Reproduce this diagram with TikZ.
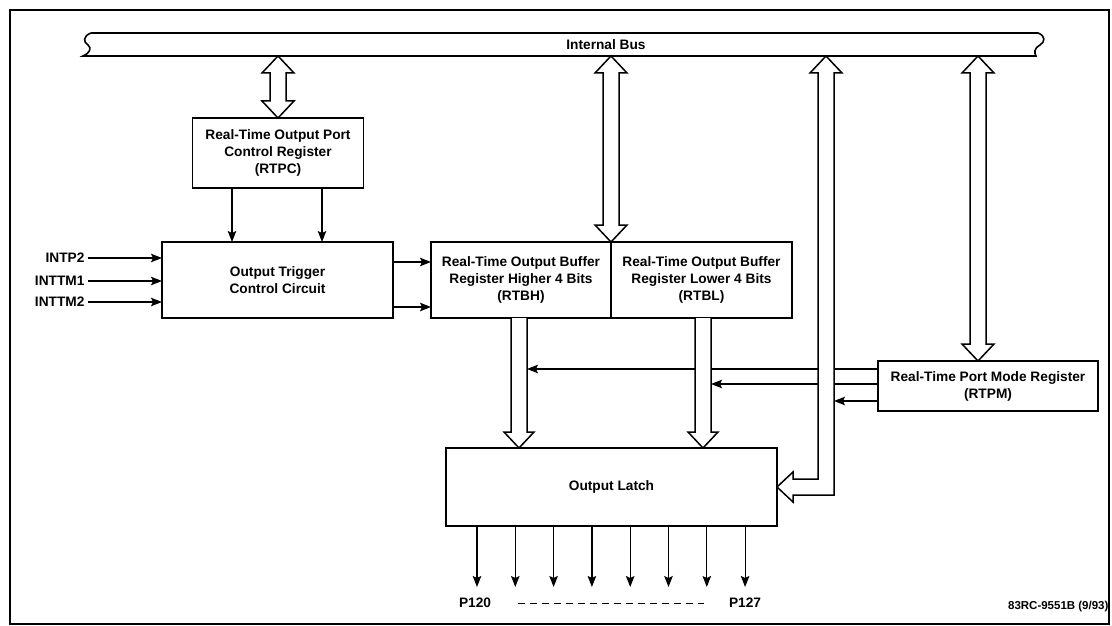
\documentclass[tikz,border=0pt]{standalone}
\usepackage{fontspec}
\setmainfont{Liberation Sans}
\usetikzlibrary{arrows.meta,positioning,calc}

% hollow bus arrow, heads at both ends (top point, bottom point)
\newcommand{\busarrow}[2]{%
  \draw[fat] let \p1=(#1), \p2=(#2) in
    (\x1,\y1) -- (\x1+16pt,\y1-17pt) -- (\x1+8pt,\y1-17pt) -- (\x1+8pt,\y2+17pt)
    -- (\x1+16pt,\y2+17pt) -- (\x1,\y2) -- (\x1-16pt,\y2+17pt) -- (\x1-8pt,\y2+17pt)
    -- (\x1-8pt,\y1-17pt) -- (\x1-16pt,\y1-17pt) -- cycle;}
% hollow arrow going down into a box
\newcommand{\droparrow}[2]{%
  \draw[fat] let \p1=(#1), \p2=(#2) in
    (\x1-8pt,\y1) -- (\x1-8pt,\y2+16pt) -- (\x1-15pt,\y2+16pt) -- (\x1,\y2)
    -- (\x1+15pt,\y2+16pt) -- (\x1+8pt,\y2+16pt) -- (\x1+8pt,\y1);}

\begin{document}
\begin{tikzpicture}[x=1pt,y=-1pt,
    font=\fontsize{13.7}{17}\selectfont\bfseries,
    box/.style={draw,line width=1.7pt,align=center,outer sep=0pt,inner sep=2pt},
    sig/.style={line width=1.2pt,-{Stealth[length=11pt,width=8.5pt,inset=2pt]}},
    fat/.style={draw,line width=1.5pt,fill=white,line join=miter}]
  \useasboundingbox (0,0) rectangle (1112,626);
  \draw[line width=1.8pt] (10,10) rectangle (1109,624);

  % internal bus
  \draw[line width=1.6pt] (91,33) -- (1038,33)
    .. controls (1046,36) and (1045,42) .. (1040,45)
    .. controls (1034,48) and (1034,53) .. (1036,56) -- (83,56)
    .. controls (90,53) and (92,48) .. (88,45)
    .. controls (83,42) and (83,36) .. (91,33);
  \node (bus) at (606,45) {Internal Bus};
  \coordinate (bA) at (278,56);
  \coordinate (bB) at (611,56);
  \coordinate (bC) at (826,56);
  \coordinate (bD) at (978,56);

  % blocks
  \node[box,minimum width=171pt,minimum height=70pt] (rtpc) at (278,153)
    {Real-Time Output Port\\Control Register\\(RTPC)};
  \node[box,minimum width=231pt,minimum height=76pt] (otc) at (277.5,280)
    {Output Trigger\\Control Circuit};
  \node[box,minimum width=180pt,minimum height=76pt] (rtbh) at (521,280)
    {Real-Time Output Buffer\\Register Higher 4 Bits\\(RTBH)};
  \node[box,minimum width=181pt,minimum height=76pt,right=0pt of rtbh] (rtbl)
    {Real-Time Output Buffer\\Register Lower 4 Bits\\(RTBL)};
  \node[box,minimum width=331pt,minimum height=78pt] (latch) at (611.5,487) {Output Latch};
  \node[box,minimum width=220pt,minimum height=50pt] (rtpm) at (988,386)
    {Real-Time Port Mode Register\\(RTPM)};

  % trigger inputs
  \node[anchor=east] (intp2) at (88,258) {INTP2};
  \node[anchor=east] (inttm1) at (88,281) {INTTM1};
  \node[anchor=east] (inttm2) at (88,302) {INTTM2};
  \foreach \n in {intp2,inttm1,inttm2}
    \draw[sig] (\n.east) -- (\n.east -| otc.west);

  \draw[sig] ([xshift=-46pt]rtpc.south) -- ([xshift=-46pt]rtpc.south |- otc.north);
  \draw[sig] ([xshift=44pt]rtpc.south) -- ([xshift=44pt]rtpc.south |- otc.north);
  \draw[sig] ([yshift=18pt]otc.east) -- ([yshift=18pt]otc.east -| rtbh.west);
  \draw[sig] ([yshift=-27pt]otc.east) -- ([yshift=-27pt]otc.east -| rtbh.west);

  % mode register lines
  \coordinate (hH) at ($(rtbh.south)+(-2,0)$);
  \coordinate (hL) at ($(rtbl.south)+(1.5,0)$);
  \coordinate (hHr) at ($(hH)+(8,0)$);
  \coordinate (hLr) at ($(hL)+(8,0)$);
  \coordinate (bCr) at ($(bC)+(8,0)$);
  \draw[sig] ([yshift=17pt]rtpm.west) -- ([yshift=17pt]rtpm.west -| hHr);
  \draw[sig] ([yshift=2pt]rtpm.west) -- ([yshift=2pt]rtpm.west -| hLr);
  \draw[sig] ([yshift=-15pt]rtpm.west) -- ([yshift=-15pt]rtpm.west -| bCr);

  % hollow data paths
  \busarrow{bA}{rtpc.north}
  \busarrow{bB}{rtbh.north east}
  \busarrow{bD}{rtpm.north}
  \droparrow{hH}{hH |- latch.north}
  \droparrow{hL}{hL |- latch.north}
  \draw[fat] let \p1=(bC), \p2=(latch.east) in
    (\x1,\y1) -- (\x1+16pt,\y1-17pt) -- (\x1+8pt,\y1-17pt) -- (\x1+8pt,\y2-8pt)
    -- (\x2+16pt,\y2-8pt) -- (\x2+16pt,\y2-15pt) -- (\x2,\y2)
    -- (\x2+16pt,\y2+15pt) -- (\x2+16pt,\y2+8pt) -- (\x1-8pt,\y2+8pt)
    -- (\x1-8pt,\y1-17pt) -- (\x1-16pt,\y1-17pt) -- cycle;

  % port outputs
  \foreach \i in {0,...,7} {
    \coordinate (p\i) at (477+38.3*\i,587);
    \draw[sig] (p\i |- latch.south) -- (p\i);
  }
  \node (p120) at (475,603) {P120};
  \node (p127) at (745,603) {P127};
  \draw[line width=1pt,dash pattern=on 7pt off 5pt]
    ([xshift=23pt]p120.east) -- ([xshift=-21pt]p127.west);

  \node[anchor=east,font=\fontsize{11.5}{14}\selectfont\bfseries] (code) at (1112,607)
    {83RC-9551B (9/93)};
\end{tikzpicture}
\end{document}
